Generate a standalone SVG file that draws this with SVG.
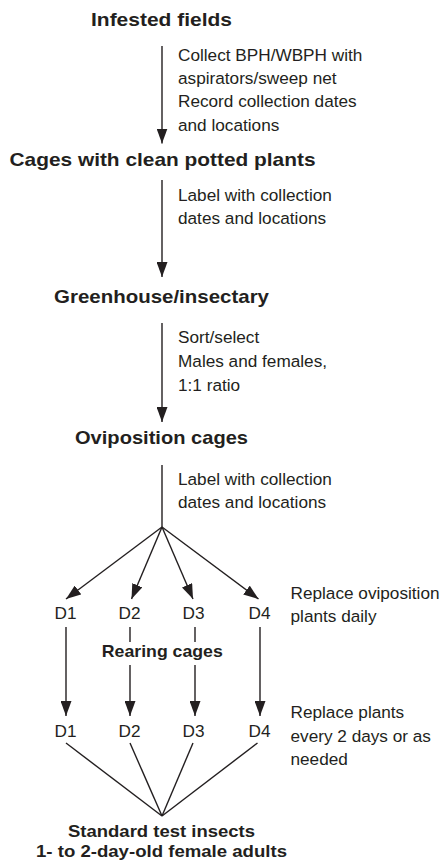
<svg xmlns="http://www.w3.org/2000/svg" width="443" height="861" viewBox="0 0 443 861">
<style>
.t{font-family:"Liberation Sans",Arial,sans-serif;font-weight:bold;font-size:19px;fill:#231f20;text-anchor:middle}
.s{font-family:"Liberation Sans",Arial,sans-serif;font-weight:bold;font-size:17px;fill:#231f20;text-anchor:middle}
.l{font-family:"Liberation Sans",Arial,sans-serif;font-size:17.2px;fill:#231f20}
.d{font-family:"Liberation Sans",Arial,sans-serif;font-size:17.2px;fill:#231f20;text-anchor:middle}
.c{stroke:#231f20;stroke-width:1.4;fill:none}
.a{marker-end:url(#ah)}
</style>
<defs>
<marker id="ah" markerUnits="userSpaceOnUse" markerWidth="15" markerHeight="11" refX="15" refY="5.5" orient="auto">
<path d="M0,0 L15,5.5 L0,11 z" fill="#231f20"/>
</marker>
</defs>
<g id="connectors">
<line class="c a" x1="162" y1="46" x2="162" y2="143.5"/>
<line class="c a" x1="162" y1="180" x2="162" y2="277"/>
<line class="c a" x1="162" y1="323" x2="162" y2="422"/>
<line class="c" x1="162" y1="465" x2="162" y2="527"/>
<line class="c a" x1="162" y1="527" x2="66" y2="599"/>
<line class="c a" x1="162" y1="527" x2="131.5" y2="599"/>
<line class="c a" x1="162" y1="527" x2="193" y2="599"/>
<line class="c a" x1="162" y1="527" x2="258.5" y2="599"/>
<line class="c a" x1="66" y1="627" x2="66" y2="716"/>
<line class="c" x1="130" y1="627" x2="130" y2="642"/>
<line class="c a" x1="130" y1="665" x2="130" y2="716"/>
<line class="c" x1="195" y1="627" x2="195" y2="642"/>
<line class="c a" x1="195" y1="665" x2="195" y2="716"/>
<line class="c a" x1="260" y1="627" x2="260" y2="716"/>
<line class="c" x1="66" y1="743" x2="162" y2="816"/>
<line class="c" x1="130" y1="743" x2="162" y2="816"/>
<line class="c" x1="193" y1="743" x2="162" y2="816"/>
<line class="c" x1="257.5" y1="743" x2="162" y2="816"/>
</g>
<g id="infested-fields"><text class="t" x="161.5" y="26" textLength="141" lengthAdjust="spacingAndGlyphs">Infested fields</text></g>
<g id="label-collect">
<text class="l" x="178" y="60.7">Collect BPH/WBPH with</text>
<text class="l" x="178" y="84">aspirators/sweep net</text>
<text class="l" x="178" y="107.3">Record collection dates</text>
<text class="l" x="178" y="130.7">and locations</text>
</g>
<g id="cages-clean"><text class="t" x="162.5" y="166" textLength="306" lengthAdjust="spacingAndGlyphs">Cages with clean potted plants</text></g>
<g id="label-1">
<text class="l" x="178" y="200.5">Label with collection</text>
<text class="l" x="178" y="224">dates and locations</text>
</g>
<g id="greenhouse"><text class="t" x="161.5" y="302.7" textLength="215" lengthAdjust="spacingAndGlyphs">Greenhouse/insectary</text></g>
<g id="label-sort">
<text class="l" x="178" y="343.3">Sort/select</text>
<text class="l" x="178" y="366.7">Males and females,</text>
<text class="l" x="178" y="390.7">1:1 ratio</text>
</g>
<g id="oviposition-cages"><text class="t" x="161.5" y="444" textLength="173" lengthAdjust="spacingAndGlyphs">Oviposition cages</text></g>
<g id="label-2">
<text class="l" x="178" y="485">Label with collection</text>
<text class="l" x="178" y="508.3">dates and locations</text>
</g>
<g id="d-row1">
<text class="d" x="65.5" y="618.5">D1</text>
<text class="d" x="129.5" y="618.5">D2</text>
<text class="d" x="193.5" y="618.5">D3</text>
<text class="d" x="259.5" y="618.5">D4</text>
</g>
<g id="label-replace1">
<text class="l" x="290.5" y="599">Replace oviposition</text>
<text class="l" x="290.5" y="622">plants daily</text>
</g>
<g id="rearing-cages"><text class="s" x="162.3" y="657" textLength="121" lengthAdjust="spacingAndGlyphs">Rearing cages</text></g>
<g id="d-row2">
<text class="d" x="65.5" y="737.3">D1</text>
<text class="d" x="129.5" y="737.3">D2</text>
<text class="d" x="193.5" y="737.3">D3</text>
<text class="d" x="259.5" y="737.3">D4</text>
</g>
<g id="label-replace2">
<text class="l" x="290.5" y="718.3">Replace plants</text>
<text class="l" x="290.5" y="741.7">every 2 days or as</text>
<text class="l" x="290.5" y="764.5">needed</text>
</g>
<g id="standard-test-insects">
<text class="s" x="161.5" y="836.7" textLength="187" lengthAdjust="spacingAndGlyphs">Standard test insects</text>
<text class="s" x="161.5" y="856.7" textLength="251" lengthAdjust="spacingAndGlyphs">1- to 2-day-old female adults</text>
</g>
</svg>
